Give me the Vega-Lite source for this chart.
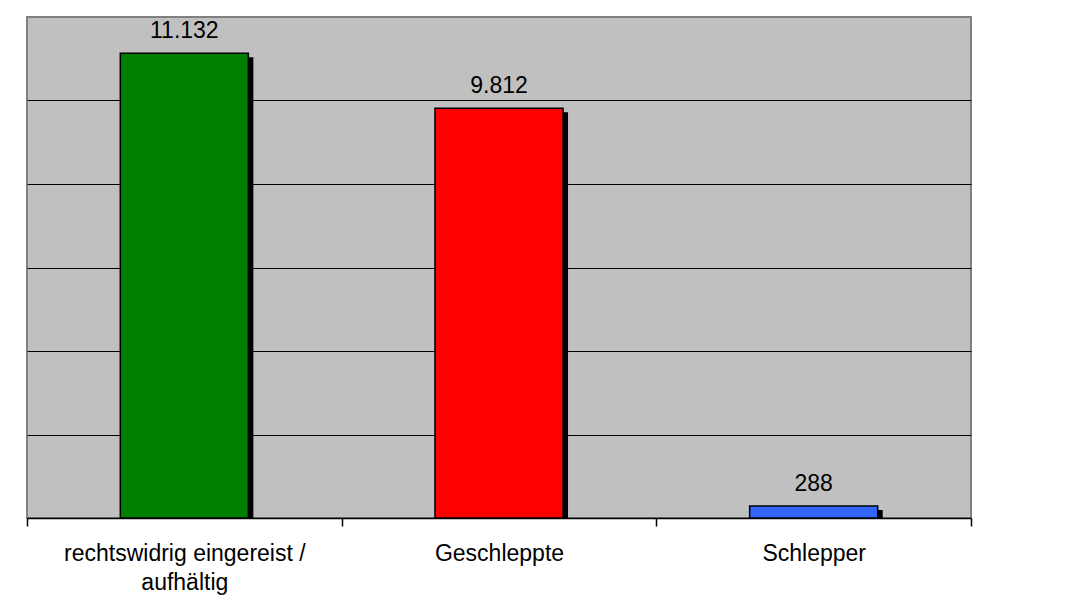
{
  "$schema": "https://vega.github.io/schema/vega-lite/v6.json",
  "width": 944,
  "height": 501,
  "autosize": "none",
  "padding": {"left": 27, "top": 17, "right": 120, "bottom": 98},
  "background": "white",
  "config": {
    "locale": {"number": {"decimal": ",", "thousands": ".", "grouping": [3], "currency": ["", " €"]}},
    "view": {"fill": "#C0C0C0", "stroke": "#808080", "strokeWidth": 2},
    "font": "Liberation Sans"
  },
  "data": {
    "values": [
      {"kategorie": "rechtswidrig eingereist / aufhältig", "anzahl": 11132},
      {"kategorie": "Geschleppte", "anzahl": 9812},
      {"kategorie": "Schlepper", "anzahl": 288}
    ]
  },
  "encoding": {
    "x": {
      "field": "kategorie",
      "type": "nominal",
      "sort": null,
      "scale": {"paddingInner": 0, "paddingOuter": 0},
      "axis": {
        "title": null,
        "labelAngle": 0,
        "grid": false,
        "domainColor": "black",
        "domainWidth": 1.5,
        "tickBand": "extent",
        "tickColor": "black",
        "tickSize": 8,
        "tickWidth": 1.5,
        "labelFont": "Liberation Sans",
        "labelFontSize": 23,
        "labelColor": "black",
        "labelPadding": 16,
        "labelLineHeight": 29,
        "labelLimit": 0,
        "labelExpr": "datum.value == 'rechtswidrig eingereist / aufhältig' ? ['rechtswidrig eingereist /', 'aufhältig'] : datum.value"
      }
    },
    "y": {
      "field": "anzahl",
      "type": "quantitative",
      "scale": {"domain": [0, 12000], "nice": false},
      "axis": {
        "title": null,
        "values": [2000, 4000, 6000, 8000, 10000],
        "grid": true,
        "gridColor": "black",
        "gridWidth": 1.2,
        "gridOpacity": 1,
        "labels": false,
        "ticks": false,
        "domain": false
      }
    }
  },
  "layer": [
    {
      "mark": {"type": "bar", "color": "black", "width": {"band": 0.407}, "xOffset": 5, "yOffset": 4, "clip": true}
    },
    {
      "mark": {"type": "bar", "width": {"band": 0.407}, "stroke": "black", "strokeWidth": 1.5, "opacity": 1},
      "encoding": {
        "color": {
          "field": "kategorie",
          "type": "nominal",
          "scale": {
            "domain": ["rechtswidrig eingereist / aufhältig", "Geschleppte", "Schlepper"],
            "range": ["#008000", "#FF0000", "#3366FF"]
          },
          "legend": null
        }
      }
    },
    {
      "mark": {"type": "text", "baseline": "alphabetic", "dy": -15, "fontSize": 23, "color": "black", "font": "Liberation Sans"},
      "encoding": {
        "text": {"field": "anzahl", "type": "quantitative", "format": ",d"}
      }
    }
  ]
}
